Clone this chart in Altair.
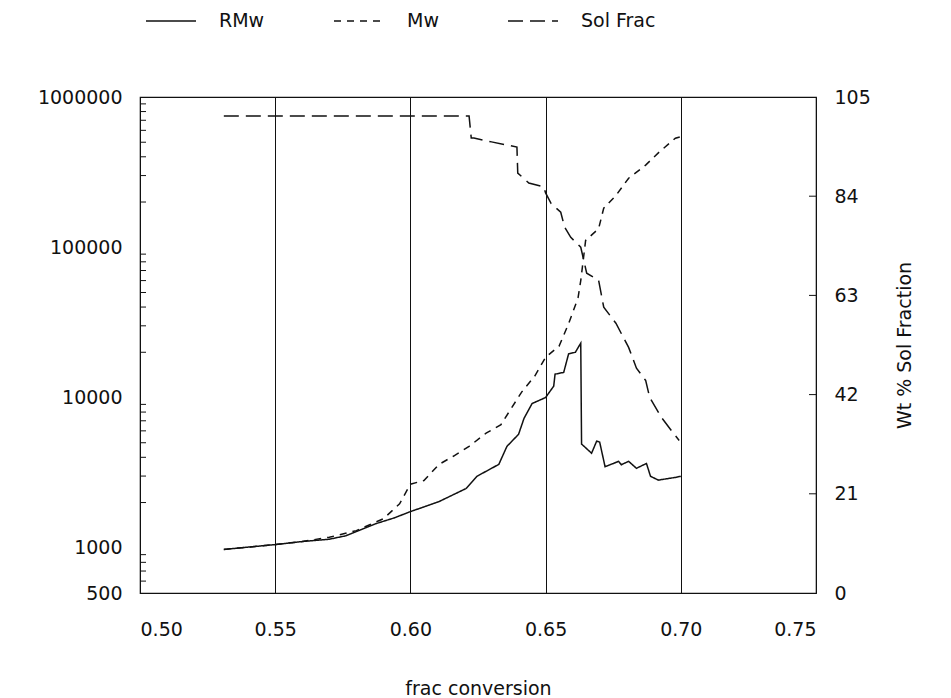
import altair as alt
import pandas as pd

# RMw (solid, left log axis)
rmw_x = [0.531, 0.540, 0.550, 0.560, 0.570, 0.576, 0.5874, 0.594, 0.600, 0.6106, 0.6206, 0.6246,
         0.6327, 0.6357, 0.640, 0.642, 0.645, 0.650, 0.653, 0.6535, 0.6567, 0.6585, 0.661, 0.663,
         0.6633, 0.667, 0.6689, 0.670, 0.672, 0.677, 0.678, 0.6807, 0.6836, 0.6873, 0.6888, 0.6917,
         0.698, 0.700]
rmw_y = [975, 1010, 1050, 1100, 1140, 1200, 1450, 1580, 1740, 2030, 2480, 2990,
         3590, 4730, 5690, 7250, 9120, 10000, 11900, 14300, 14700, 19500, 20000, 23000,
         4900, 4260, 5130, 5050, 3460, 3760, 3570, 3760, 3380, 3640, 2990, 2820,
         2940, 2990]

# Mw (short dash, left log axis)
mw_x = [0.531, 0.550, 0.560, 0.570, 0.580, 0.590, 0.596, 0.600, 0.605, 0.6106, 0.616, 0.6217,
        0.628, 0.6335, 0.637, 0.6412, 0.646, 0.650, 0.655, 0.6585, 0.662, 0.663, 0.6648,
        0.6696, 0.6715, 0.676, 0.6807, 0.687, 0.692, 0.698, 0.700]
mw_y = [975, 1050, 1100, 1175, 1300, 1560, 1960, 2650, 2800, 3590, 4080, 4730,
        5790, 6600, 8300, 10900, 13900, 18500, 22000, 31000, 46000, 60000, 111000,
        133000, 182000, 221000, 288000, 352000, 430000, 532000, 545000]

# Sol Frac (long dash, right axis, wt %)
sol_x = [0.531, 0.6217, 0.6225, 0.6235, 0.630, 0.6394, 0.6397, 0.6438, 0.6493, 0.650, 0.652,
         0.6556, 0.657, 0.6593, 0.663, 0.6652, 0.6696, 0.6715, 0.676, 0.6807, 0.6836, 0.687,
         0.6885, 0.6928, 0.6965, 0.6994]
sol_y = [101, 101, 96.3, 96.3, 95.5, 94.4, 88.9, 86.8, 86.0, 84.7, 82.5,
         80.6, 77.5, 75.3, 73.2, 67.7, 66.2, 60.5, 57.1, 52.0, 47.6, 45.0,
         41.4, 37.2, 34.4, 32.3]

series_names = ["RMw", "Mw", "Sol Frac"]
dash_styles = [[1, 0], [7, 6], [15, 7]]

x_ticks = [0.50, 0.55, 0.60, 0.65, 0.70, 0.75]
left_ticks = [500, 1000, 10000, 100000, 1000000]
left_minor_ticks = [600, 700, 800, 900,
                    2000, 3000, 4000, 5000, 6000, 7000, 8000, 9000,
                    20000, 30000, 40000, 50000, 60000, 70000, 80000, 90000,
                    200000, 300000, 400000, 500000, 600000, 700000, 800000, 900000]
right_ticks = [0, 21, 42, 63, 84, 105]
right_inner_ticks = [21, 42, 63, 84]

FONT = "DejaVu Sans"
INK = "#111111"
W, H = 676, 496

left_df = pd.concat([
    pd.DataFrame({"x": rmw_x, "y": rmw_y, "series": "RMw", "order": range(len(rmw_x))}),
    pd.DataFrame({"x": mw_x, "y": mw_y, "series": "Mw", "order": range(len(mw_x))}),
], ignore_index=True)
right_df = pd.DataFrame({"x": sol_x, "y": sol_y, "series": "Sol Frac", "order": range(len(sol_x))})
left_minor_df = pd.DataFrame({"y": left_minor_ticks})
right_tick_df = pd.DataFrame({"y": right_inner_ticks})

x_enc = alt.X("x:Q",
              scale=alt.Scale(domain=[0.50, 0.75], nice=False, zero=False),
              axis=alt.Axis(values=x_ticks, format=".2f", title="frac conversion",
                            grid=True, gridColor=INK, gridWidth=1, gridOpacity=1,
                            ticks=False, domain=False, labelPadding=27,
                            titlePadding=40))

dash_enc = alt.StrokeDash("series:N",
                          scale=alt.Scale(domain=series_names, range=dash_styles),
                          legend=alt.Legend(title=None, orient="none", direction="horizontal",
                                            legendX=5, legendY=-102,
                                            symbolType="stroke", symbolSize=2500,
                                            symbolStrokeWidth=1.3, symbolStrokeColor=INK,
                                            labelOffset=22, columnPadding=66,
                                            labelFontSize=19, labelFont=FONT,
                                            labelColor=INK))

left_y = alt.Y("y:Q",
               scale=alt.Scale(type="log", domain=[500, 1000000], nice=False),
               axis=alt.Axis(values=left_ticks, format="d", title=None, orient="left",
                             ticks=False, domain=False, grid=False, labelPadding=18))

right_y = alt.Y("y:Q",
                scale=alt.Scale(domain=[0, 105], nice=False),
                axis=alt.Axis(values=right_ticks, format="d", title="Wt % Sol Fraction",
                              orient="right", ticks=False, domain=False, grid=False,
                              labelPadding=18, titleAngle=270, titlePadding=44))

left_lines = alt.Chart(left_df).mark_line(color=INK, strokeWidth=1.5).encode(
    x=x_enc,
    y=left_y,
    strokeDash=dash_enc,
    detail="series:N",
    order="order:Q",
)
left_minor = alt.Chart(left_minor_df).mark_rule(color=INK, strokeWidth=1).encode(
    y=left_y,
    x=alt.value(0),
    x2=alt.value(6),
)
left_group = alt.layer(left_minor, left_lines)

right_line = alt.Chart(right_df).mark_line(color=INK, strokeWidth=1.5).encode(
    x=x_enc,
    y=right_y,
    strokeDash=dash_enc,
    order="order:Q",
)
right_marks = alt.Chart(right_tick_df).mark_rule(color=INK, strokeWidth=1).encode(
    y=right_y,
    x=alt.value(W - 7),
    x2=alt.value(W),
)
right_group = alt.layer(right_marks, right_line)

chart = alt.layer(left_group, right_group).resolve_scale(y="independent").properties(
    width=W, height=H,
    autosize=alt.AutoSizeParams(type="none"),
    padding={"left": 140, "top": 97, "right": 135, "bottom": 105},
    background="white",
).configure_view(
    stroke=INK, strokeWidth=1.2,
).configure_axis(
    labelFont=FONT, labelFontSize=19, labelColor=INK,
    titleFont=FONT, titleFontSize=19, titleColor=INK, titleFontWeight="normal",
)

chart.save("out.html", embed_options={"renderer": "svg", "actions": False})
